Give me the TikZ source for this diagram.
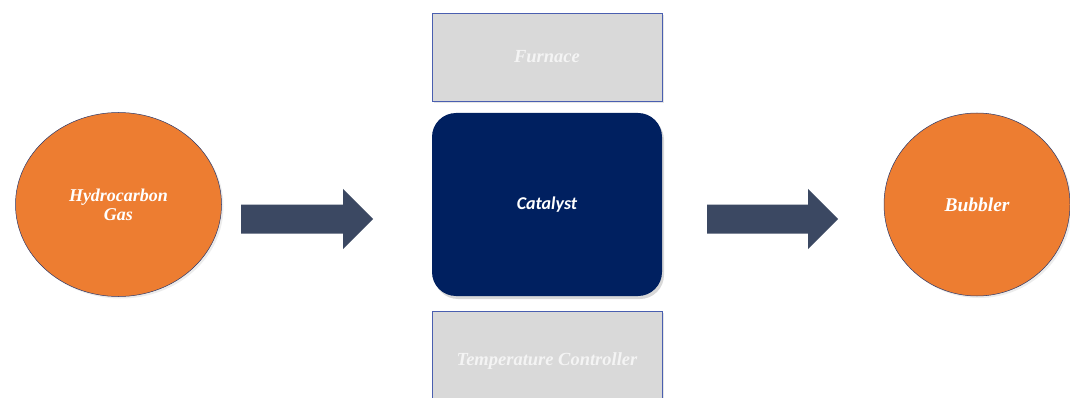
\documentclass[tikz,border=0pt]{standalone}
\usepackage{fontspec}
\setmainfont{Liberation Serif}
\newfontfamily\calibri{Carlito}
\usetikzlibrary{shapes.geometric,shadows}
\definecolor{offorange}{HTML}{ED7D31}
\definecolor{navy}{HTML}{002060}
\definecolor{slate}{HTML}{3B4862}
\definecolor{boxgray}{HTML}{D9D9D9}
\definecolor{boxedge}{HTML}{4A5FB0}
\definecolor{faint}{HTML}{F4F4F4}
\tikzset{
  orangeball/.style={ellipse, fill=offorange, draw=boxedge!60!black, line width=0.5pt,
    inner sep=0pt, text=white, font=\fontsize{18}{19}\selectfont\bfseries\itshape, align=center,
    drop shadow={shadow xshift=2pt, shadow yshift=-2pt, opacity=0.15}},
  graybox/.style={rectangle, fill=boxgray, draw=boxedge, line width=0.6pt, inner sep=0pt,
    minimum width=230pt, text=faint, font=\fontsize{18.5}{20}\selectfont\bfseries\itshape,
    drop shadow={shadow xshift=2pt, shadow yshift=-2pt, opacity=0.2}},
  catbox/.style={rectangle, rounded corners=24pt, fill=navy, inner sep=0pt,
    minimum width=230pt, minimum height=183pt, text=white,
    font=\calibri\fontsize{18}{20}\selectfont\bfseries\itshape,
    drop shadow={shadow xshift=2pt, shadow yshift=-3pt, opacity=0.3}},
  blockarrow/.style={fill=slate}
}
\begin{document}
\begin{tikzpicture}[x=1pt,y=-1pt]
\clip (0,0) rectangle (1070,398);
\fill[white] (0,0) rectangle (1070,398);
\node[orangeball, minimum width=206pt, minimum height=184pt] (hc) at (118.5,204.5) {Hydrocarbon\\Gas};
\node[orangeball, minimum width=186pt, minimum height=183pt, font=\fontsize{19.5}{21}\selectfont\bfseries\itshape] (bub) at (977,204.5) {Bubbler};
\node[catbox] (cat) at (547,204.5) {Catalyst};
\node[graybox, minimum height=88pt] (furn) at (547,57) {Furnace};
\node[graybox, minimum height=100pt] (temp) at (547,361) {Temperature Controller};
% block arrows
\fill[blockarrow] (241,204.5) -- (343,204.5) -- (343,189) -- (373,219) -- (343,249) -- (343,233.5) -- (241,233.5) -- cycle;
\fill[blockarrow] (707,204.5) -- (808,204.5) -- (808,189) -- (838,219) -- (808,249) -- (808,233.5) -- (707,233.5) -- cycle;
\end{tikzpicture}
\end{document}
